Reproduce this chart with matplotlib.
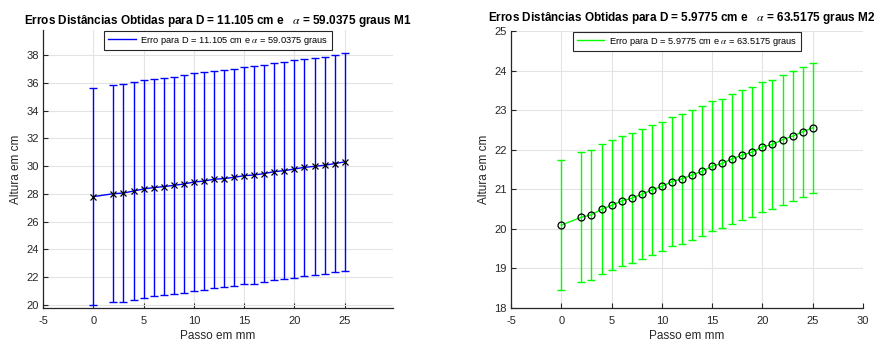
import matplotlib
matplotlib.use("Agg")
import matplotlib.pyplot as plt
from matplotlib.lines import Line2D

plt.rcParams['font.family'] = ['Liberation Sans', 'DejaVu Sans']
plt.rcParams['mathtext.fontset'] = 'stix'
plt.rcParams['axes.unicode_minus'] = False

# Step positions (mm)
passo = [0, 2, 3, 4, 5, 6, 7, 8, 9, 10, 11, 12, 13, 14, 15, 16, 17, 18, 19, 20, 21, 22, 23, 24, 25]

# M1: measured heights (cm) and error half-widths
altura_m1 = [27.80, 28.01, 28.06, 28.20, 28.35, 28.45, 28.52, 28.61, 28.71, 28.85, 28.92, 29.05, 29.10,
             29.19, 29.31, 29.36, 29.46, 29.60, 29.67, 29.79, 29.91, 29.98, 30.06, 30.18, 30.30]
erro_m1 = [7.83] * len(passo)

# M2: measured heights (cm) and error half-widths
altura_m2 = [20.09, 20.29, 20.35, 20.49, 20.59, 20.70, 20.77, 20.87, 20.98, 21.07, 21.19, 21.26, 21.36,
             21.45, 21.58, 21.65, 21.77, 21.86, 21.94, 22.07, 22.13, 22.25, 22.34, 22.45, 22.55]
erro_m2 = [1.64] * len(passo)

titulo_m1 = r'Erros Distâncias Obtidas para D = 11.105 cm e   $\alpha$ = 59.0375 graus M1'
titulo_m2 = r'Erros Distâncias Obtidas para D = 5.9775 cm e   $\alpha$ = 63.5175 graus M2'
legenda_m1 = r'Erro para D = 11.105 cm e $\alpha$ = 59.0375 graus'
legenda_m2 = r'Erro para D = 5.9775 cm e $\alpha$ = 63.5175 graus'

W, H = 884, 345
fig = plt.figure(figsize=(W / 100, H / 100), dpi=100)

def px_axes(x0, y0, x1, y1):
    return fig.add_axes([x0 / W, 1 - y1 / H, (x1 - x0) / W, (y1 - y0) / H])

ax1 = px_axes(43, 30, 393, 307.7)
ax2 = px_axes(511, 31, 863, 307.7)

axis_color = '#262626'
grid_color = '#e3e3e3'

def style(ax):
    for s in ('top', 'right'):
        ax.spines[s].set_visible(False)
    for s in ('left', 'bottom'):
        ax.spines[s].set_color(axis_color)
        ax.spines[s].set_linewidth(0.9)
    ax.tick_params(direction='in', length=3.5, width=0.8, colors=axis_color,
                   labelsize=8)
    ax.tick_params(axis='x', pad=6)
    ax.tick_params(axis='y', pad=3)
    ax.grid(True, color=grid_color, linewidth=0.8)
    ax.set_axisbelow(True)
    ax.set_xlabel('Passo em mm', fontsize=8.5, color=axis_color, labelpad=3)
    ax.set_ylabel('Altura em cm', fontsize=8.5, color=axis_color, labelpad=3)

def legend(ax, color, text):
    ax.legend([Line2D([], [], color=color, linewidth=1.0)], [text],
              loc='upper center', bbox_to_anchor=(0.5, 0.995), fontsize=6.7,
              frameon=True, fancybox=False, edgecolor='#262626', framealpha=1,
              handlelength=3.0, handletextpad=0.5, borderpad=0.35,
              borderaxespad=0.0).get_frame().set_linewidth(0.8)

# Left panel (M1)
ax1.errorbar(passo, altura_m1, yerr=erro_m1, color='#0000ff', ecolor='#0000ff',
             elinewidth=1.0, capsize=2.7, capthick=1.0, linewidth=1.0, zorder=2)
ax1.plot(passo, altura_m1, linestyle='none', marker='x', color='black',
         markersize=4.5, markeredgewidth=0.9, zorder=3)
ax1.set_xlim(-5, 29.8)
ax1.set_ylim(19.8, 39.8)
ax1.set_xticks(range(-5, 26, 5))
ax1.set_yticks(range(20, 39, 2))
style(ax1)
ax1.set_title(titulo_m1, fontsize=8.5, fontweight='bold', pad=4)
legend(ax1, '#0000ff', legenda_m1)

# Right panel (M2)
ax2.errorbar(passo, altura_m2, yerr=erro_m2, color='#00ff00', ecolor='#00ff00',
             elinewidth=1.0, capsize=2.7, capthick=1.0, linewidth=1.0, zorder=2)
ax2.plot(passo, altura_m2, linestyle='none', marker='o', markerfacecolor='none',
         markeredgecolor='black', markersize=5, markeredgewidth=0.9, zorder=3)
ax2.set_xlim(-5, 30)
ax2.set_ylim(18, 25)
ax2.set_xticks(range(-5, 31, 5))
ax2.set_yticks(range(18, 26, 1))
style(ax2)
ax2.set_title(titulo_m2, fontsize=8.5, fontweight='bold', pad=7.5, x=0.485)
legend(ax2, '#00ff00', legenda_m2)

fig.savefig('out.png', dpi=100)
